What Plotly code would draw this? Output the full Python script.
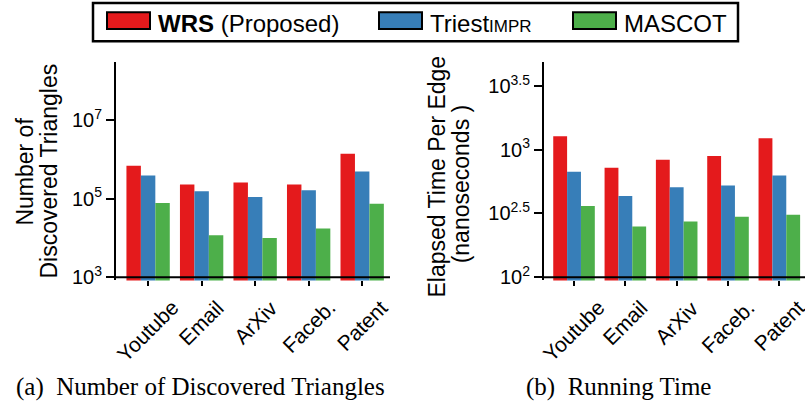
import plotly.graph_objects as go

# ---- data -------------------------------------------------------------
datasets = ["Youtube", "Email", "ArXiv", "Faceb.", "Patent"]
series_names = ["<b>WRS</b> (Proposed)",
                "Triest<span style='font-size:17px'>IMPR</span>",
                "MASCOT"]
series_colors = ["#e41a1c", "#377eb8", "#4daf4a"]

# number of discovered triangles
triangles_wrs = [6.9e5, 2.3e5, 2.6e5, 2.3e5, 1.4e6]
triangles_triest = [3.9e5, 1.55e5, 1.1e5, 1.65e5, 4.9e5]
triangles_mascot = [7.8e4, 1.17e4, 1.0e4, 1.75e4, 7.4e4]

# elapsed time per edge (nanoseconds)
time_wrs = [1274, 723, 833, 895, 1230]
time_triest = [673, 433, 507, 525, 628]
time_mascot = [362, 250, 273, 298, 309]

tri_tickvals = [1e3, 1e5, 1e7]
tri_ticktext = ["10<sup>3</sup>", "10<sup>5</sup>", "10<sup>7</sup>"]
time_tickvals = [10 ** 2, 10 ** 2.5, 10 ** 3, 10 ** 3.5]
time_ticktext = ["10<sup>2</sup>", "10<sup>2.5</sup>", "10<sup>3</sup>", "10<sup>3.5</sup>"]

# ---- geometry helpers (pixel -> paper) ---------------------------------
W, H = 805, 410
SANS = "Liberation Sans, Arial, sans-serif"
SERIF = "Liberation Serif, Times New Roman, serif"


def px(x):
    return x / W


def py(y):
    return 1 - y / H


fig = go.Figure()

tri_series = [triangles_wrs, triangles_triest, triangles_mascot]
time_series = [time_wrs, time_triest, time_mascot]
for name, color, tri_vals, time_vals in zip(series_names, series_colors,
                                            tri_series, time_series):
    fig.add_trace(go.Bar(x=datasets, y=tri_vals, name=name,
                         marker=dict(color=color, line=dict(width=0)),
                         xaxis="x", yaxis="y", showlegend=False))
    fig.add_trace(go.Bar(x=datasets, y=time_vals, name=name,
                         marker=dict(color=color, line=dict(width=0)),
                         xaxis="x2", yaxis="y2", showlegend=False))

y_dom = [py(286), py(63)]
common_x = dict(type="category", showline=False, showgrid=False, zeroline=False,
                ticks="outside", ticklen=5, tickwidth=2, tickcolor="black",
                showticklabels=False)
common_y = dict(type="log", showline=True, linewidth=2, linecolor="black",
                showgrid=False, zeroline=False, ticks="outside", ticklen=8,
                tickwidth=2, tickcolor="black",
                tickfont=dict(family=SANS, size=20, color="black"))

fig.update_layout(
    width=W, height=H,
    margin=dict(l=0, r=0, t=0, b=0),
    paper_bgcolor="white", plot_bgcolor="white",
    barmode="group", bargap=0.19, bargroupgap=0,
    xaxis=dict(domain=[px(116), px(390)], range=[-0.6, 4.52], anchor="y", **common_x),
    xaxis2=dict(domain=[px(544), 1.0], range=[-0.585, 4.5], anchor="y2", **common_x),
    yaxis=dict(domain=y_dom, range=[2.917, 8.49], anchor="x",
               tickvals=tri_tickvals, ticktext=tri_ticktext, **common_y),
    yaxis2=dict(domain=y_dom, range=[1.975, 3.69], anchor="x2",
                tickvals=time_tickvals, ticktext=time_ticktext, **common_y),
)

shapes = []
annotations = []

# baseline of each panel at the lowest tick value
for xref, yref, base in [("x domain", "y", tri_tickvals[0]),
                         ("x2 domain", "y2", time_tickvals[0])]:
    shapes.append(dict(type="line", xref=xref, yref=yref, x0=0, x1=1,
                       y0=base, y1=base, line=dict(color="black", width=2)))

# rotated category labels
for xref in ["x", "x2"]:
    for cat in datasets:
        annotations.append(dict(text=cat, x=cat, xref=xref, y=py(299), yref="paper",
                                xanchor="center", yanchor="top", textangle=-45,
                                showarrow=False,
                                font=dict(family=SANS, size=21, color="black")))

# axis titles
title_font = dict(family=SANS, size=23, color="black")
for text, xpix, ypix in [("Number of", 25, 175),
                         ("Discovered Triangles", 49, 175),
                         ("Elapsed Time Per Edge", 437, 180),
                         ("(nanoseconds )", 461, 188)]:
    annotations.append(dict(text=text, x=px(xpix), y=py(ypix), xref="paper", yref="paper",
                            xanchor="center", yanchor="middle", textangle=-90,
                            showarrow=False, font=title_font))

# sub-captions
for text, xpix in [("(a)\u00a0 Number of Discovered Triangles", 200),
                   ("(b)\u00a0 Running Time", 618)]:
    annotations.append(dict(text=text, x=px(xpix), y=py(395), xref="paper", yref="paper",
                            xanchor="center", yanchor="middle", showarrow=False,
                            font=dict(family=SERIF, size=25, color="black")))

# legend: framed box with wide swatches
shapes.append(dict(type="rect", xref="paper", yref="paper",
                   x0=px(93), x1=px(738), y0=py(42), y1=py(3),
                   line=dict(color="black", width=2.5), fillcolor="white"))
legend_swatch_x = [107, 379, 573]
for name, color, sx in zip(series_names, series_colors, legend_swatch_x):
    shapes.append(dict(type="rect", xref="paper", yref="paper",
                       x0=px(sx), x1=px(sx + 43), y0=py(29.5), y1=py(12.5),
                       line=dict(color="black", width=2), fillcolor=color))
    annotations.append(dict(text=name, x=px(sx + 49), y=py(23.5), xref="paper", yref="paper",
                            xanchor="left", yanchor="middle", showarrow=False,
                            font=dict(family=SANS, size=24, color="black")))

fig.update_layout(shapes=shapes, annotations=annotations)

fig.write_html("out.html")
